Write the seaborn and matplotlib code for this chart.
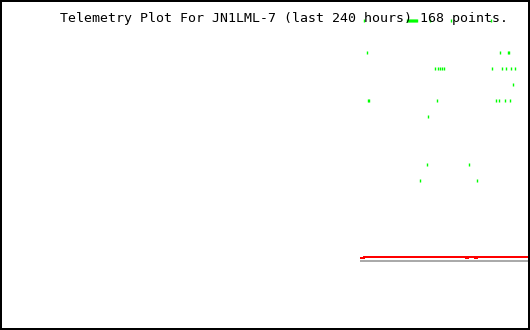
import matplotlib
matplotlib.use("Agg")
import matplotlib.pyplot as plt
import seaborn as sns

# Telemetry data (x = hours relative to now)
green_hours = [-75.0, -55.5, -55.0, -54.5, -54.1, -53.6, -53.2, -52.7, -52.3, -51.8,
               -51.4, -50.9, -45.0, -35.5, -17.3,
               -73.6, -13.2, -9.5, -9.1,
               -42.7, -41.4, -40.5, -39.5, -38.6, -16.8, -12.3, -10.5, -8.2, -6.4,
               -7.3,
               -73.2, -72.7, -41.8, -15.0, -13.6, -10.9, -8.6,
               -45.9,
               -46.4, -27.3,
               -49.5, -23.6]
green_vals = [309, 309, 309, 309, 309, 309, 309, 309, 309, 309,
              309, 309, 309, 309, 309,
              277, 277, 277, 277,
              261, 261, 261, 261, 261, 261, 261, 261, 261, 261,
              245,
              229, 229, 229, 229, 229, 229, 229,
              213,
              165, 165,
              149, 149]

red_hours = [-76.4, -75.0, -28.6, -27.7, -24.5, -23.6, 0.0]
red_vals = [71, 72, 71, 72, 71, 72, 72]

gray_hours = [-76.4, 0.0]
gray_vals = [68, 68]

title = "Telemetry Plot For JN1LML-7 (last 240 hours) 168 points."

sns.set_style("white")
plt.rcParams['font.family'] = ['DejaVu Sans Mono', 'DejaVu Sans']

px = 1 / 100 * 72  # one pixel in points
fig = plt.figure(figsize=(5.30, 3.30), dpi=100)
ax = fig.add_axes([1 / 530, 1 / 330, 528 / 530, 328 / 330])

sns.lineplot(x=gray_hours, y=gray_vals, ax=ax, color="#aaaaaa", linewidth=2 * px,
             antialiased=False)
sns.lineplot(x=red_hours, y=red_vals, ax=ax, color="#ff0000", linewidth=2 * px,
             drawstyle="steps-post", antialiased=False)
sns.scatterplot(x=green_hours, y=green_vals, ax=ax, color="#00ff00", marker="|",
                s=(3 * px) ** 2, linewidth=1.4 * px, antialiased=False, zorder=5)

ax.set_xlim(-240, 0)
ax.set_ylim(0, 328)
ax.set_xticks([])
ax.set_yticks([])
for s in ax.spines.values():
    s.set_color("black")
    s.set_linewidth(2 * px)
    s.set_visible(True)

fig.text(60 / 530, (330 - 22) / 330, title, ha="left", va="baseline",
         fontsize=9.55, color="black", zorder=1)

fig.savefig("out.png", dpi=100, facecolor="white")
